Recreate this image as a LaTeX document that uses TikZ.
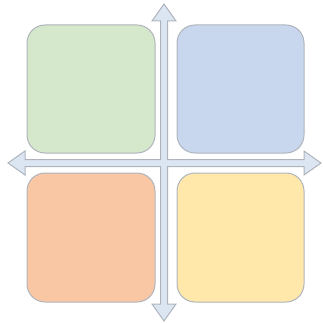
\documentclass[tikz,border=0pt]{standalone}
\definecolor{cgreen}{RGB}{213,232,204}
\definecolor{cblue}{RGB}{200,214,238}
\definecolor{corange}{RGB}{249,199,163}
\definecolor{cyellow}{RGB}{255,232,170}
\definecolor{carrow}{RGB}{220,230,243}
\definecolor{cedge}{RGB}{175,180,188}
\tikzset{quad/.style={draw=cedge, line width=1pt, rounded corners=18pt},
  axisarrow/.style={fill=carrow, draw=cedge, line width=1pt, line join=miter}}
\begin{document}
\begin{tikzpicture}[x=1pt,y=-1pt]
\useasboundingbox (0,0) rectangle (322,323);
\path[quad, fill=cgreen] (27,25) rectangle (155,153);
\path[quad, fill=cblue] (177,25) rectangle (304,153);
\path[quad, fill=corange] (27,173) rectangle (155,302);
\path[quad, fill=cyellow] (177,173) rectangle (304,302);
\def\cx{164}\def\cy{163}\def\w{3.5}\def\h{12}\def\L{17}
\def\tp{4}\def\bt{321}\def\lf{8}\def\rt{321}
\path[axisarrow] (\cx,\tp) -- (\cx+\h,\tp+\L) -- (\cx+\w,\tp+\L) -- (\cx+\w,\cy-\w)
 -- (\rt-\L,\cy-\w) -- (\rt-\L,\cy-\h) -- (\rt,\cy) -- (\rt-\L,\cy+\h) -- (\rt-\L,\cy+\w)
 -- (\cx+\w,\cy+\w) -- (\cx+\w,\bt-\L) -- (\cx+\h,\bt-\L) -- (\cx,\bt) -- (\cx-\h,\bt-\L)
 -- (\cx-\w,\bt-\L) -- (\cx-\w,\cy+\w) -- (\lf+\L,\cy+\w) -- (\lf+\L,\cy+\h) -- (\lf,\cy)
 -- (\lf+\L,\cy-\h) -- (\lf+\L,\cy-\w) -- (\cx-\w,\cy-\w) -- (\cx-\w,\tp+\L) -- (\cx-\h,\tp+\L) -- cycle;
\end{tikzpicture}
\end{document}
